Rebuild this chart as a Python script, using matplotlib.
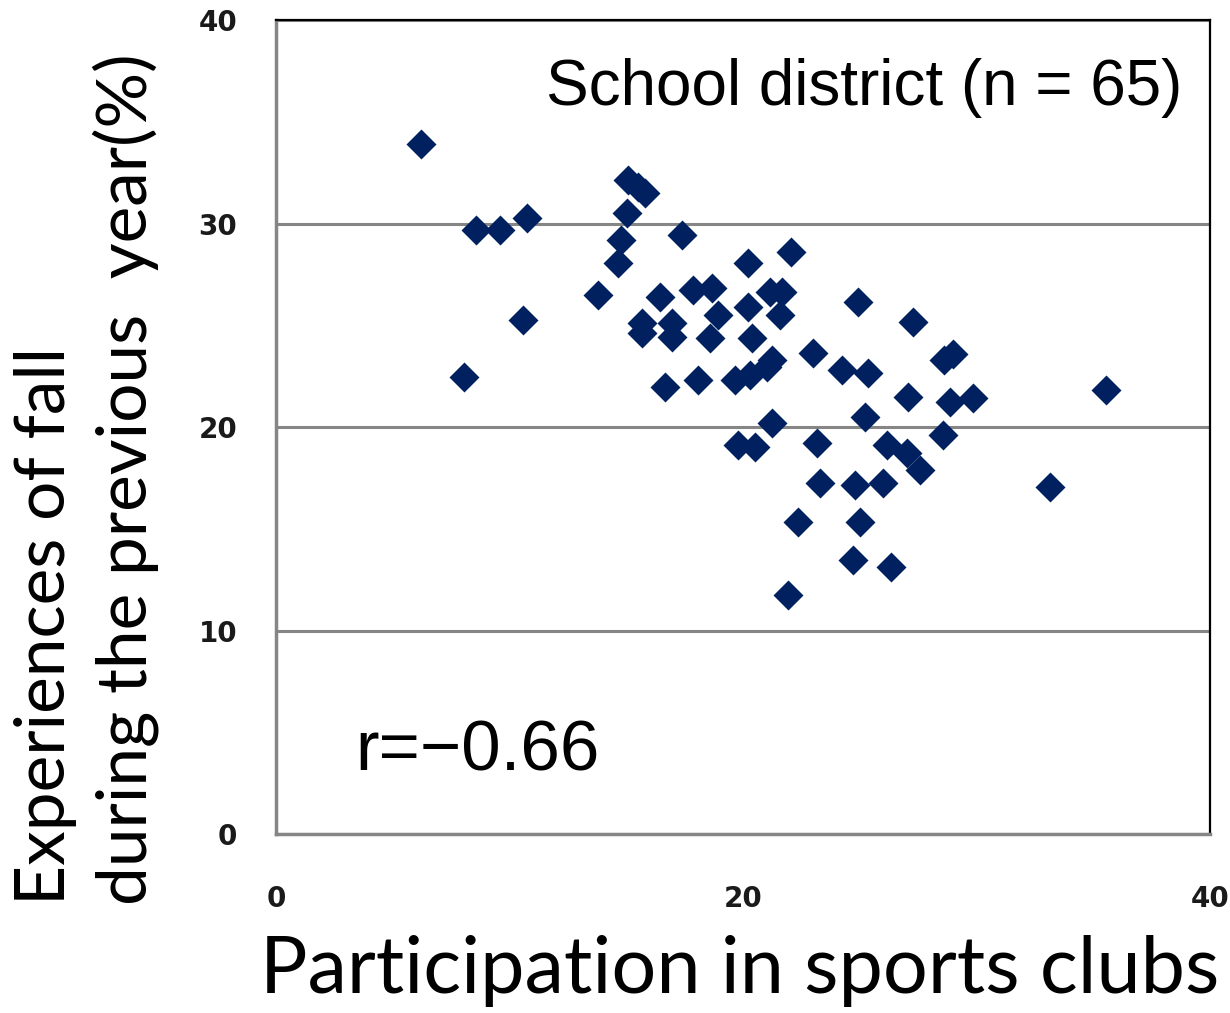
import matplotlib
matplotlib.use("Agg")
import matplotlib.pyplot as plt

# Participation in sports clubs (%) vs. experiences of fall during the previous year (%)
participation = [
    6.20, 15.09, 15.50, 15.80, 15.02, 14.76, 14.66, 8.57, 9.59, 10.76,
    17.40, 10.56, 8.07, 13.80, 20.20, 22.06, 16.45, 17.87, 18.66, 15.66,
    15.66, 16.95, 16.95, 18.94, 20.23, 21.16, 21.66, 21.58, 18.59, 20.37,
    23.01, 24.94, 27.29, 28.60, 29.00, 16.66, 18.09, 19.66, 20.30, 21.01,
    21.23, 24.23, 25.37, 27.08, 28.87, 29.86, 21.23, 25.22, 19.80, 20.51,
    23.15, 26.15, 27.01, 27.58, 28.58, 23.30, 24.80, 26.01, 22.37, 25.01,
    35.55, 33.15, 24.73, 26.34, 21.91,
]
fall_experience = [
    33.89, 32.14, 31.80, 31.48, 30.50, 29.19, 28.04, 29.68, 29.68, 30.26,
    29.43, 25.26, 22.47, 26.49, 28.04, 28.61, 26.41, 26.73, 26.81, 25.10,
    24.60, 25.10, 24.44, 25.50, 25.91, 26.65, 26.65, 25.50, 24.36, 24.36,
    23.62, 26.16, 25.17, 23.30, 23.60, 21.98, 22.31, 22.31, 22.56, 22.96,
    23.29, 22.80, 22.64, 21.49, 21.24, 21.41, 20.18, 20.51, 19.12, 19.03,
    19.23, 19.12, 18.71, 17.89, 19.61, 17.23, 17.15, 17.23, 15.35, 15.35,
    21.82, 17.07, 13.46, 13.14, 11.74,
]

x_ticks = [0, 20, 40]
y_ticks = [0, 10, 20, 30, 40]

fig = plt.figure(figsize=(12.30, 10.13), dpi=100)
ax = fig.add_axes([276 / 1230, 1 - 834 / 1013, (1210 - 276) / 1230, (834 - 20) / 1013])

ax.plot(participation, fall_experience, linestyle="none", marker="D",
        markersize=15, color="#002060", markeredgecolor="none", zorder=3)

ax.set_xlim(0, 40)
ax.set_ylim(0, 40)
ax.set_xticks(x_ticks)
ax.set_yticks(y_ticks)
ax.set_xticklabels([str(v) for v in x_ticks], fontsize=20, fontweight="bold",
                   family="DejaVu Sans", color="#1a1a1a")
ax.set_yticklabels([str(v) for v in y_ticks], fontsize=20, fontweight="bold",
                   family="DejaVu Sans", color="#1a1a1a")
ax.tick_params(axis="both", length=0)
ax.tick_params(axis="x", pad=37)
ax.tick_params(axis="y", pad=28)

ax.grid(axis="y", color="#868686", linewidth=2.2, zorder=1)
ax.set_axisbelow(True)

for side in ("left", "bottom"):
    ax.spines[side].set_color("#868686")
    ax.spines[side].set_linewidth(2.5)
for side in ("top", "right"):
    ax.spines[side].set_color("black")
    ax.spines[side].set_linewidth(1.6)

ax.text(0.97, 0.916, "School district (n = 65)", transform=ax.transAxes,
        ha="right", va="center", fontsize=46, family="Liberation Sans")
ax.text(0.085, 0.10, "r=\u22120.66", transform=ax.transAxes,
        ha="left", va="center", fontsize=51, family="Liberation Sans")

fig.text(740 / 1230, 1 - 971 / 1013, "Participation in sports clubs",
         ha="center", va="center", fontsize=57, family="Lato")
fig.text(46 / 1230, 1 - 905 / 1013, "Experiences of fall", rotation=90,
         ha="center", va="bottom", fontsize=50, family="Lato")
fig.text(126 / 1230, 1 - 905 / 1013, "during the previous  year(%)", rotation=90,
         ha="center", va="bottom", fontsize=50, family="Lato")

fig.savefig("out.png", dpi=100, facecolor="white")
